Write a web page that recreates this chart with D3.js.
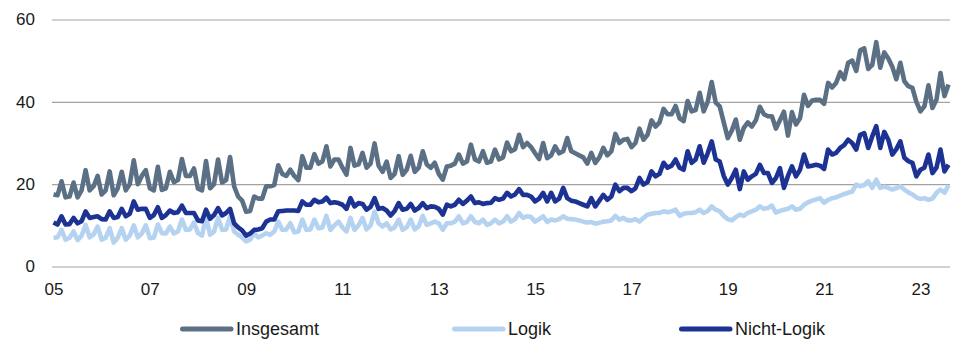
<!DOCTYPE html>
<html>
<head>
<meta charset="utf-8">
<script src="https://cdn.jsdelivr.net/npm/d3@7"></script>
<style>
  html, body { margin: 0; padding: 0; background: #ffffff; }
  svg { display: block; }
</style>
</head>
<body>
<svg id="chart" width="957" height="342"></svg>
<script>
// Monthly values, January 2005 to August 2023 (one row per year)
const insgesamt = [
  17.5, 17.3, 20.7, 16.8, 17.0, 20.4, 16.8, 18.5, 23.4, 18.5, 19.5, 22.0,
  17.5, 18.5, 23.1, 17.3, 19.0, 23.0, 18.5, 20.0, 25.8, 20.0, 22.0, 23.4,
  19.0, 18.5, 24.2, 18.6, 19.0, 23.0, 20.5, 21.0, 26.1, 22.0, 22.0, 23.8,
  18.9, 18.5, 25.6, 19.0, 20.0, 26.0, 20.4, 21.0, 26.6, 19.5, 17.0, 16.0,
  13.3, 13.5, 17.0, 16.5, 16.5, 19.5, 19.5, 19.8, 24.6, 22.5, 22.0, 23.5,
  22.0, 21.0, 26.8, 24.0, 24.0, 27.3, 25.0, 25.5, 29.2, 24.3, 26.0, 26.0,
  24.0, 22.3, 28.8, 24.5, 24.8, 27.6, 24.0, 25.0, 29.9, 24.5, 23.0, 25.5,
  21.5, 22.5, 26.8, 22.3, 23.5, 26.9, 23.0, 24.0, 28.0, 24.8, 24.0, 25.2,
  22.5, 21.1, 24.3, 24.5, 25.0, 27.2, 25.0, 25.5, 29.6, 26.0, 25.5, 28.0,
  25.2, 25.5, 28.4, 26.0, 26.5, 30.1, 28.0, 28.5, 32.0, 29.0, 30.0, 29.0,
  27.5, 26.1, 30.0, 26.3, 27.0, 29.2, 27.5, 28.0, 31.2, 28.0, 27.5, 27.0,
  26.5, 25.0, 27.6, 25.2, 26.5, 28.8, 27.0, 28.0, 32.2, 30.0, 30.8, 31.0,
  29.0, 30.0, 33.5, 30.8, 32.0, 35.5, 34.0, 35.0, 38.3, 37.0, 37.0, 39.0,
  36.0, 35.3, 40.2, 37.7, 38.0, 42.2, 37.7, 40.0, 44.8, 39.8, 38.9, 35.0,
  31.2, 33.0, 35.7, 30.8, 33.7, 35.0, 34.0, 35.5, 38.8, 37.0, 36.5, 36.5,
  33.5, 35.5, 37.6, 31.8, 37.5, 34.5, 36.0, 41.7, 39.0, 40.3, 40.5, 40.5,
  39.5, 44.6, 43.5, 44.6, 47.2, 45.5, 49.5, 50.0, 47.5, 52.5, 53.0, 48.0,
  49.0, 54.5, 48.3, 52.0, 50.5, 48.5, 45.5, 49.5, 45.0, 43.8, 43.4, 40.0,
  37.7, 38.9, 44.0, 38.5, 40.5, 47.0, 41.4, 44.2
];

const logik = [
  6.9, 7.1, 8.9, 6.5, 7.0, 8.5, 6.4, 7.5, 10.1, 7.1, 7.8, 9.7,
  6.5, 7.0, 9.3, 5.8, 7.0, 9.3, 6.5, 7.5, 10.0, 7.1, 8.0, 10.0,
  6.9, 7.0, 10.2, 8.1, 8.0, 9.7, 8.0, 8.5, 11.4, 8.9, 9.0, 10.7,
  8.1, 7.5, 12.0, 7.7, 8.5, 11.8, 8.9, 9.0, 12.2, 8.5, 7.7, 7.1,
  6.1, 6.5, 8.1, 7.1, 7.5, 8.1, 7.7, 8.5, 10.9, 8.9, 9.0, 10.5,
  8.3, 8.5, 11.4, 8.9, 9.0, 11.4, 9.3, 9.5, 12.3, 8.9, 10.0, 10.9,
  9.5, 8.5, 11.8, 8.9, 10.0, 11.8, 9.0, 10.0, 13.3, 10.5, 9.7, 10.5,
  9.0, 9.5, 11.4, 8.9, 9.5, 11.4, 9.0, 9.8, 12.3, 10.1, 10.5, 10.9,
  10.5, 8.9, 10.5, 10.5, 10.9, 12.2, 10.5, 10.8, 12.2, 10.8, 10.5, 11.4,
  10.1, 10.5, 11.4, 10.5, 10.9, 12.2, 10.9, 11.5, 13.0, 11.8, 12.2, 12.0,
  10.9, 11.5, 12.2, 10.8, 11.4, 11.2, 11.5, 12.2, 11.6, 11.5, 11.4, 11.2,
  10.9, 10.7, 10.8, 10.4, 10.6, 10.9, 11.0, 11.2, 12.3, 11.4, 11.8, 11.2,
  11.2, 11.5, 10.9, 11.8, 12.6, 12.8, 13.0, 13.0, 13.4, 13.2, 13.4, 13.8,
  12.3, 12.8, 13.0, 13.0, 13.2, 13.8, 13.0, 13.5, 14.6, 13.8, 13.4, 12.3,
  11.5, 11.2, 12.0, 12.6, 12.3, 13.0, 13.4, 13.8, 14.6, 14.0, 14.2, 14.8,
  13.1, 13.5, 13.8, 14.0, 14.6, 13.8, 14.0, 15.0, 15.6, 16.0, 16.3, 16.6,
  15.5, 16.2, 16.6, 16.8, 17.2, 17.6, 17.9, 18.2, 19.9, 19.5, 19.8, 20.7,
  19.1, 21.1, 19.1, 19.4, 19.1, 18.7, 19.0, 19.5, 18.7, 18.0, 17.5, 16.8,
  16.4, 16.6, 16.2, 16.5, 17.9, 18.7, 17.9, 19.7
];

const nichtLogik = [
  10.7, 10.2, 12.2, 10.2, 10.3, 11.8, 10.5, 11.0, 13.4, 11.8, 12.0, 12.2,
  11.5, 11.4, 13.4, 11.8, 12.0, 14.0, 12.2, 12.8, 15.8, 13.8, 14.0, 14.0,
  11.8, 12.5, 14.4, 11.8, 12.5, 13.6, 13.0, 13.2, 14.8, 13.0, 13.0, 13.0,
  11.2, 11.0, 13.8, 11.6, 12.5, 14.2, 12.4, 13.0, 14.0, 10.5, 9.5, 8.8,
  7.5, 8.0, 8.9, 9.0, 9.3, 10.9, 11.4, 11.4, 13.4, 13.5, 13.6, 13.6,
  13.6, 13.5, 15.8, 15.0, 15.0, 16.2, 15.6, 15.8, 16.7, 15.4, 15.6, 15.4,
  15.0, 14.0, 16.6, 14.6, 15.4, 15.2, 13.8, 14.5, 16.6, 14.0, 14.2, 13.6,
  12.4, 13.5, 15.4, 13.8, 14.0, 15.2, 13.6, 14.2, 15.4, 14.2, 14.6, 14.5,
  14.0, 12.6, 15.0, 14.6, 15.0, 16.2, 15.2, 16.0, 17.0, 15.4, 15.6, 15.2,
  15.4, 15.5, 16.6, 16.2, 16.5, 17.9, 17.0, 17.5, 18.8, 17.4, 17.4, 17.0,
  15.8, 16.5, 17.9, 15.8, 17.9, 15.8, 16.5, 19.1, 16.6, 16.0, 15.8, 15.4,
  15.0, 14.6, 16.6, 14.6, 16.0, 17.4, 16.2, 17.0, 19.9, 18.3, 19.1, 19.1,
  18.3, 19.0, 21.5, 19.9, 20.5, 23.1, 21.9, 22.5, 25.2, 24.0, 24.5, 26.0,
  24.0, 23.5, 28.0, 25.2, 26.0, 29.2, 25.2, 27.5, 30.4, 26.0, 25.5, 22.0,
  19.9, 21.5, 23.5, 18.8, 23.1, 21.1, 21.9, 22.5, 24.7, 22.7, 22.7, 20.3,
  21.5, 23.9, 19.1, 22.0, 24.3, 21.9, 23.5, 27.2, 24.3, 24.5, 24.7, 24.5,
  23.7, 28.4, 27.2, 27.6, 28.8, 29.5, 30.8, 30.0, 28.4, 32.0, 32.4, 28.8,
  31.6, 34.1, 28.8, 32.7, 30.8, 27.2, 28.5, 30.4, 26.4, 25.6, 25.2, 21.9,
  23.5, 24.0, 27.2, 22.7, 24.0, 28.4, 23.1, 24.7
];

// Axis labels: every second January, and the value grid
const yearTicks = ["05", "07", "09", "11", "13", "15", "17", "19", "21", "23"];
const valueTicks = [0, 20, 40, 60];
const seriesNames = ["Insgesamt", "Logik", "Nicht-Logik"];
const seriesColors = ["#5b7084", "#b5d3f1", "#1c3393"];

const FONT = "'Liberation Sans', Arial, Helvetica, sans-serif";
const svg = d3.select("#chart");

const plotLeft = 52, plotRight = 950, plotTop = 19.5, plotBottom = 266.5;

// month index -> horizontal position
const x = d3.scaleLinear()
  .domain([0, insgesamt.length - 1])
  .range([53.5, 948.5]);

const y = d3.scaleLinear()
  .domain([0, 60])
  .range([plotBottom, plotTop]);

// horizontal grid lines with value labels
svg.append("g")
  .attr("transform", `translate(${plotLeft},0)`)
  .call(d3.axisLeft(y)
    .tickValues(valueTicks)
    .tickSize(-(plotRight - plotLeft))
    .tickPadding(17))
  .call(g => g.select(".domain").remove())
  .call(g => g.selectAll(".tick line")
    .attr("stroke", "#a3a3a3")
    .attr("stroke-width", 1.2))
  .call(g => g.selectAll(".tick text")
    .attr("font-family", FONT)
    .attr("font-size", 17)
    .attr("fill", "#1a1a1a"));

// year labels under the plot (two-year steps, 24 months apart)
svg.append("g")
  .attr("transform", `translate(0,${plotBottom})`)
  .call(d3.axisBottom(x)
    .tickValues(yearTicks.map((_, k) => k * 24))
    .tickFormat((d, k) => yearTicks[k])
    .tickSize(0)
    .tickPadding(16))
  .call(g => g.select(".domain").remove())
  .call(g => g.selectAll(".tick text")
    .attr("font-family", FONT)
    .attr("font-size", 17)
    .attr("fill", "#1a1a1a"));

// the three series
const series = [insgesamt, logik, nichtLogik];
const line = d3.line()
  .x((d, i) => x(i))
  .y(d => y(d));

svg.append("g")
  .selectAll("path")
  .data(series)
  .join("path")
  .attr("d", line)
  .attr("fill", "none")
  .attr("stroke", (d, i) => seriesColors[i])
  .attr("stroke-width", 4.6)
  .attr("stroke-linejoin", "round")
  .attr("stroke-linecap", "butt");

// legend row
const legendX = [180, 452, 679];
const legendY = 329;
const legend = svg.append("g")
  .selectAll("g")
  .data(seriesNames)
  .join("g")
  .attr("transform", (d, i) => `translate(${legendX[i]},${legendY})`);

legend.append("line")
  .attr("x1", 2.5).attr("x2", 51)
  .attr("y1", 0).attr("y2", 0)
  .attr("stroke", (d, i) => seriesColors[i])
  .attr("stroke-width", 5)
  .attr("stroke-linecap", "round");

legend.append("text")
  .attr("x", 56)
  .attr("y", 0)
  .attr("dy", "0.35em")
  .attr("font-family", FONT)
  .attr("font-size", 18)
  .attr("fill", "#1a1a1a")
  .text(d => d);
</script>
</body>
</html>
